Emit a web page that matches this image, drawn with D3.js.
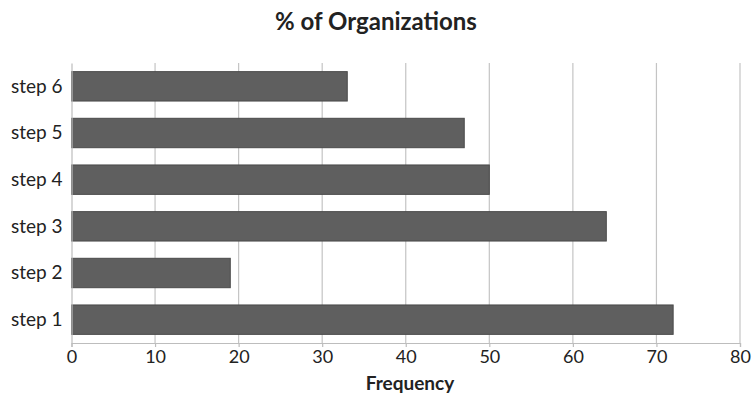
<!DOCTYPE html>
<html>
<head>
<meta charset="utf-8">
<script src="https://cdn.jsdelivr.net/npm/d3@7"></script>
<style>
  html, body { margin: 0; padding: 0; background: #fff; }
  text { font-family: Lato, "Open Sans", sans-serif; fill: #222; }
</style>
</head>
<body>
<svg id="chart" width="753" height="396"></svg>
<script>
const categories = ["step 1", "step 2", "step 3", "step 4", "step 5", "step 6"];
const values = [72, 19, 64, 50, 47, 33];
const xTicks = [0, 10, 20, 30, 40, 50, 60, 70, 80];
const chartTitle = "% of Organizations";
const xTitle = "Frequency";

const svg = d3.select("#chart");
const margin = { top: 63, right: 13, bottom: 53, left: 71.5 };
const W = 753, H = 396;
const iw = W - margin.left - margin.right;
const ih = H - margin.top - margin.bottom;

const g = svg.append("g").attr("transform", `translate(${margin.left},${margin.top})`);

const x = d3.scaleLinear().domain([0, 80]).range([0, iw]);
const y = d3.scaleBand().domain(categories.slice().reverse()).range([0, ih]).paddingInner(0.37).paddingOuter(0.185);

// vertical gridlines
g.selectAll(".grid").data(xTicks.slice(1)).join("line")
  .attr("x1", d => x(d)).attr("x2", d => x(d))
  .attr("y1", 0).attr("y2", ih)
  .attr("stroke", "#c4c4c4").attr("stroke-width", 1.2);

// bars
g.selectAll(".bar").data(categories).join("rect")
  .attr("x", x(0))
  .attr("y", (d) => y(d))
  .attr("width", (d, i) => x(values[i]) - x(0))
  .attr("height", y.bandwidth())
  .attr("fill", "#5f5f5f")
  .attr("stroke", "#4a4a4a").attr("stroke-width", 1);

// x axis
const xAxis = g.append("g").attr("transform", `translate(0,${ih})`)
  .call(d3.axisBottom(x).tickValues(xTicks).tickSizeOuter(0).tickSize(4).tickPadding(5));
xAxis.select(".domain").attr("stroke", "#bdbdbd").attr("stroke-width", 1.2);
xAxis.selectAll(".tick line").attr("stroke", "#bdbdbd").attr("stroke-width", 1.2);
xAxis.selectAll("text").attr("font-size", 18).attr("fill", "#222").attr("dy", "0.6em");

// y axis
const yAxis = g.append("g")
  .call(d3.axisLeft(y).tickSize(0).tickPadding(9));
yAxis.select(".domain").attr("stroke", "#bdbdbd").attr("stroke-width", 1.2);
yAxis.selectAll("text").attr("font-size", 19).attr("fill", "#222").attr("dy", "0.34em");

// titles
svg.append("text").attr("x", 376).attr("y", 29.5).attr("text-anchor", "middle")
  .attr("font-size", 24).attr("font-weight", "bold").text(chartTitle);
svg.append("text").attr("x", 410).attr("y", 390).attr("text-anchor", "middle")
  .attr("font-size", 19).attr("font-weight", "bold").text(xTitle);
</script>
</body>
</html>
